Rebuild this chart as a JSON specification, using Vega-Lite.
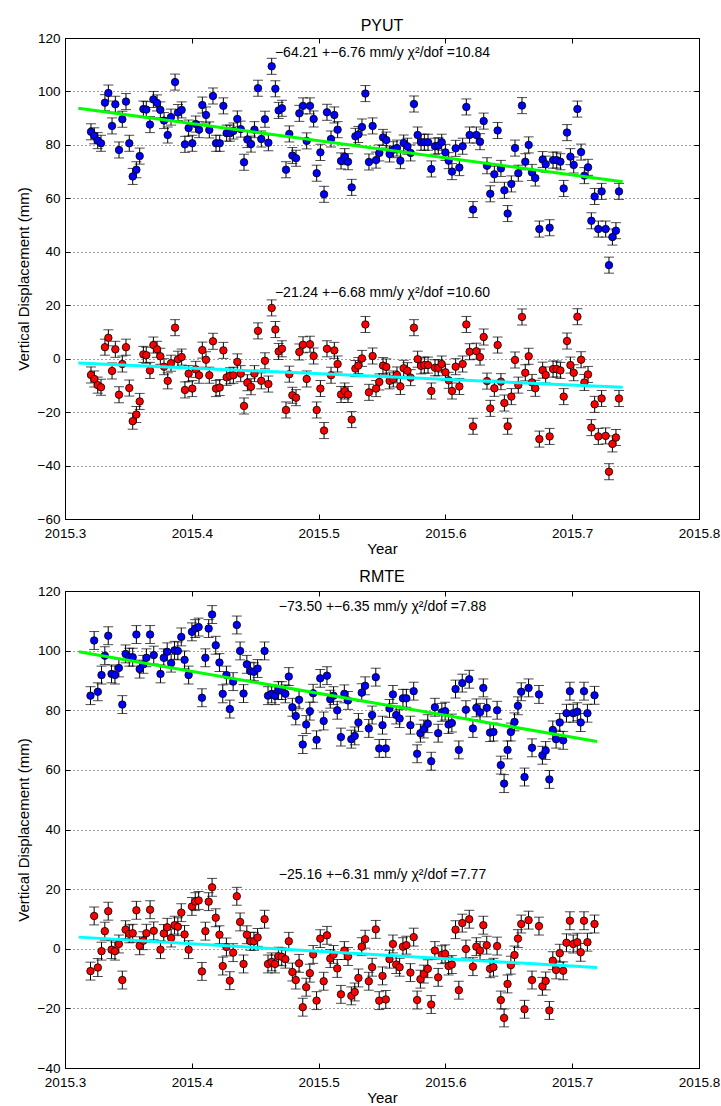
{
"$schema": "https://vega.github.io/schema/vega-lite/v6.json",
"background": "white",
"padding": {"left": 15, "top": 17, "right": 5, "bottom": 0},
"spacing": 11,
"config": {
  "font": "Liberation Sans",
  "view": {"stroke": "black", "strokeWidth": 1},
  "title": {"font": "Liberation Sans", "fontSize": 16, "fontWeight": "normal", "color": "black", "offset": -3},
  "axis": {"labelFont": "Liberation Sans", "labelFontSize": 13.5, "labelColor": "black", "titleFont": "Liberation Sans", "titleFontSize": 15, "titleFontWeight": "normal", "titleColor": "black", "domainColor": "black", "tickColor": "black", "gridColor": "#000000", "gridOpacity": 0.75, "gridDash": [1, 3], "labelOverlap": false, "labelFlush": false}
},
"datasets": {
  "pyut_up": [
{"t":2015.3205,"v":84.9,"e":3},{"t":2015.3231,"v":83.4,"e":3},{"t":2015.3258,"v":81.6,"e":3},{"t":2015.3284,"v":80.6,"e":3},{"t":2015.3315,"v":95.8,"e":3},{"t":2015.3342,"v":99.4,"e":3},{"t":2015.3371,"v":87.1,"e":3},{"t":2015.3397,"v":95.2,"e":3},{"t":2015.3426,"v":78.1,"e":3},{"t":2015.3452,"v":89.6,"e":3},{"t":2015.3481,"v":96.2,"e":3},{"t":2015.3507,"v":80.6,"e":3},{"t":2015.3534,"v":68.2,"e":3},{"t":2015.3563,"v":70.7,"e":3},{"t":2015.3589,"v":75.8,"e":3},{"t":2015.3618,"v":93.4,"e":3},{"t":2015.3641,"v":93.2,"e":3},{"t":2015.3670,"v":87.6,"e":3},{"t":2015.3697,"v":97.0,"e":3},{"t":2015.3726,"v":95.7,"e":3},{"t":2015.3752,"v":93.1,"e":3},{"t":2015.3781,"v":89.1,"e":3},{"t":2015.3810,"v":83.7,"e":3},{"t":2015.3836,"v":90.4,"e":3},{"t":2015.3868,"v":103.5,"e":3},{"t":2015.3891,"v":92.1,"e":3},{"t":2015.3920,"v":93.1,"e":3},{"t":2015.3946,"v":80.2,"e":3},{"t":2015.3975,"v":86.3,"e":3},{"t":2015.4004,"v":80.6,"e":3},{"t":2015.4031,"v":87.8,"e":3},{"t":2015.4057,"v":85.7,"e":3},{"t":2015.4083,"v":94.9,"e":3},{"t":2015.4112,"v":91.2,"e":3},{"t":2015.4138,"v":85.6,"e":3},{"t":2015.4167,"v":98.3,"e":3},{"t":2015.4191,"v":80.6,"e":3},{"t":2015.4220,"v":80.6,"e":3},{"t":2015.4249,"v":94.6,"e":3},{"t":2015.4275,"v":84.4,"e":3},{"t":2015.4301,"v":84.4,"e":3},{"t":2015.4328,"v":85.2,"e":3},{"t":2015.4359,"v":89.7,"e":3},{"t":2015.4386,"v":85.9,"e":3},{"t":2015.4412,"v":73.5,"e":3},{"t":2015.4438,"v":82.0,"e":3},{"t":2015.4467,"v":80.3,"e":3},{"t":2015.4494,"v":85.7,"e":3},{"t":2015.4522,"v":101.2,"e":3},{"t":2015.4548,"v":82.2,"e":3},{"t":2015.4577,"v":89.6,"e":3},{"t":2015.4604,"v":80.8,"e":3},{"t":2015.4630,"v":109.4,"e":3},{"t":2015.4659,"v":101.0,"e":3},{"t":2015.4685,"v":92.9,"e":3},{"t":2015.4711,"v":93.7,"e":3},{"t":2015.4743,"v":70.7,"e":3},{"t":2015.4769,"v":84.1,"e":3},{"t":2015.4793,"v":76.0,"e":3},{"t":2015.4822,"v":75.0,"e":3},{"t":2015.4848,"v":91.8,"e":3},{"t":2015.4877,"v":94.6,"e":3},{"t":2015.4906,"v":81.5,"e":3},{"t":2015.4932,"v":94.6,"e":3},{"t":2015.4961,"v":89.7,"e":3},{"t":2015.4985,"v":69.4,"e":3},{"t":2015.5014,"v":77.2,"e":3},{"t":2015.5043,"v":61.5,"e":3},{"t":2015.5066,"v":92.2,"e":3},{"t":2015.5098,"v":82.2,"e":3},{"t":2015.5124,"v":91.2,"e":3},{"t":2015.5150,"v":85.7,"e":3},{"t":2015.5177,"v":74.0,"e":3},{"t":2015.5206,"v":75.6,"e":3},{"t":2015.5232,"v":73.7,"e":3},{"t":2015.5261,"v":64.1,"e":3},{"t":2015.5290,"v":83.2,"e":3},{"t":2015.5313,"v":83.9,"e":3},{"t":2015.5342,"v":86.7,"e":3},{"t":2015.5369,"v":99.2,"e":3},{"t":2015.5397,"v":73.6,"e":3},{"t":2015.5426,"v":87.1,"e":3},{"t":2015.5453,"v":74.3,"e":3},{"t":2015.5479,"v":77.0,"e":3},{"t":2015.5508,"v":82.8,"e":3},{"t":2015.5534,"v":81.8,"e":3},{"t":2015.5560,"v":76.6,"e":3},
{"t":2015.5589,"v":78.2,"e":3},{"t":2015.5618,"v":78.8,"e":3},{"t":2015.5645,"v":74.1,"e":3},{"t":2015.5671,"v":80.7,"e":3},{"t":2015.5700,"v":79.5,"e":3},{"t":2015.5726,"v":77.0,"e":3},{"t":2015.5752,"v":95.3,"e":3},{"t":2015.5781,"v":83.7,"e":3},{"t":2015.5808,"v":81.0,"e":3},{"t":2015.5834,"v":81.0,"e":3},{"t":2015.5863,"v":81.0,"e":3},{"t":2015.5889,"v":71.0,"e":3},{"t":2015.5918,"v":79.5,"e":3},{"t":2015.5944,"v":79.7,"e":3},{"t":2015.5971,"v":81.0,"e":3},{"t":2015.6000,"v":77.2,"e":3},{"t":2015.6026,"v":74.1,"e":3},{"t":2015.6052,"v":70.0,"e":3},{"t":2015.6081,"v":78.7,"e":3},{"t":2015.6110,"v":71.5,"e":3},{"t":2015.6136,"v":79.5,"e":3},{"t":2015.6165,"v":94.2,"e":3},{"t":2015.6191,"v":83.7,"e":3},{"t":2015.6218,"v":55.8,"e":3},{"t":2015.6244,"v":83.7,"e":3},{"t":2015.6273,"v":81.2,"e":3},{"t":2015.6302,"v":88.9,"e":3},{"t":2015.6328,"v":72.2,"e":3},{"t":2015.6354,"v":61.7,"e":3},{"t":2015.6386,"v":69.0,"e":3},{"t":2015.6412,"v":85.4,"e":3},{"t":2015.6438,"v":71.2,"e":3},{"t":2015.6465,"v":63.0,"e":3},{"t":2015.6491,"v":54.3,"e":3},{"t":2015.6520,"v":65.4,"e":3},{"t":2015.6549,"v":78.8,"e":3},{"t":2015.6575,"v":69.4,"e":3},{"t":2015.6604,"v":94.7,"e":3},{"t":2015.6630,"v":73.7,"e":3},{"t":2015.6657,"v":80.0,"e":3},{"t":2015.6683,"v":69.7,"e":3},{"t":2015.6709,"v":67.6,"e":3},{"t":2015.6741,"v":48.5,"e":3},{"t":2015.6767,"v":74.5,"e":3},{"t":2015.6791,"v":72.8,"e":3},{"t":2015.6822,"v":49.0,"e":3},{"t":2015.6849,"v":74.3,"e":3},{"t":2015.6878,"v":74.3,"e":3},{"t":2015.6907,"v":73.7,"e":3},{"t":2015.6933,"v":63.7,"e":3},{"t":2015.6959,"v":84.6,"e":3},{"t":2015.6986,"v":75.6,"e":3},{"t":2015.7012,"v":72.5,"e":3},{"t":2015.7041,"v":93.4,"e":3},{"t":2015.7070,"v":77.3,"e":3},{"t":2015.7096,"v":68.5,"e":3},{"t":2015.7125,"v":71.6,"e":3},{"t":2015.7151,"v":51.6,"e":3},{"t":2015.7177,"v":60.7,"e":3},{"t":2015.7206,"v":48.5,"e":3},{"t":2015.7232,"v":62.6,"e":3},{"t":2015.7264,"v":48.5,"e":3},{"t":2015.7290,"v":35.0,"e":3},{"t":2015.7317,"v":45.5,"e":3},{"t":2015.7345,"v":47.9,"e":3},{"t":2015.7369,"v":62.6,"e":3}
  ],
  "pyut_low": [
{"t":2015.3205,"v":-6.1,"e":3},{"t":2015.3231,"v":-7.6,"e":3},{"t":2015.3258,"v":-9.9,"e":3},{"t":2015.3284,"v":-10.7,"e":3},{"t":2015.3315,"v":4.3,"e":3},{"t":2015.3342,"v":7.8,"e":3},{"t":2015.3371,"v":-4.6,"e":3},{"t":2015.3397,"v":3.5,"e":3},{"t":2015.3426,"v":-13.5,"e":3},{"t":2015.3452,"v":-2.0,"e":3},{"t":2015.3481,"v":4.3,"e":3},{"t":2015.3507,"v":-11.0,"e":3},{"t":2015.3534,"v":-23.4,"e":3},{"t":2015.3563,"v":-20.9,"e":3},{"t":2015.3589,"v":-16.0,"e":3},{"t":2015.3618,"v":1.6,"e":3},{"t":2015.3641,"v":1.3,"e":3},{"t":2015.3670,"v":-4.4,"e":3},{"t":2015.3697,"v":5.1,"e":3},{"t":2015.3726,"v":3.5,"e":3},{"t":2015.3752,"v":0.9,"e":3},{"t":2015.3781,"v":-3.0,"e":3},{"t":2015.3810,"v":-8.3,"e":3},{"t":2015.3836,"v":-1.7,"e":3},{"t":2015.3868,"v":11.6,"e":3},{"t":2015.3891,"v":-0.2,"e":3},{"t":2015.3920,"v":0.6,"e":3},{"t":2015.3946,"v":-11.7,"e":3},{"t":2015.3975,"v":-5.6,"e":3},{"t":2015.4004,"v":-11.2,"e":3},{"t":2015.4031,"v":-4.0,"e":3},{"t":2015.4057,"v":-6.2,"e":3},{"t":2015.4083,"v":3.2,"e":3},{"t":2015.4112,"v":-0.4,"e":3},{"t":2015.4138,"v":-6.2,"e":3},{"t":2015.4167,"v":6.5,"e":3},{"t":2015.4191,"v":-11.2,"e":3},{"t":2015.4220,"v":-10.8,"e":3},{"t":2015.4249,"v":3.1,"e":3},{"t":2015.4275,"v":-7.0,"e":3},{"t":2015.4301,"v":-6.4,"e":3},{"t":2015.4328,"v":-6.2,"e":3},{"t":2015.4359,"v":-1.2,"e":3},{"t":2015.4386,"v":-5.6,"e":3},{"t":2015.4412,"v":-17.7,"e":3},{"t":2015.4438,"v":-9.0,"e":3},{"t":2015.4467,"v":-10.5,"e":3},{"t":2015.4494,"v":-5.6,"e":3},{"t":2015.4522,"v":10.4,"e":3},{"t":2015.4548,"v":-8.3,"e":3},{"t":2015.4577,"v":-0.8,"e":3},{"t":2015.4604,"v":-9.5,"e":3},{"t":2015.4630,"v":19.0,"e":3},{"t":2015.4659,"v":10.9,"e":3},{"t":2015.4685,"v":2.7,"e":3},{"t":2015.4711,"v":3.7,"e":3},{"t":2015.4743,"v":-19.2,"e":3},{"t":2015.4769,"v":-5.8,"e":3},{"t":2015.4793,"v":-13.7,"e":3},{"t":2015.4822,"v":-14.6,"e":3},{"t":2015.4848,"v":2.5,"e":3},{"t":2015.4877,"v":5.2,"e":3},{"t":2015.4906,"v":-7.6,"e":3},{"t":2015.4932,"v":5.4,"e":3},{"t":2015.4961,"v":1.0,"e":3},{"t":2015.4985,"v":-19.2,"e":3},{"t":2015.5014,"v":-11.2,"e":3},{"t":2015.5043,"v":-26.9,"e":3},{"t":2015.5066,"v":3.7,"e":3},{"t":2015.5098,"v":-6.2,"e":3},{"t":2015.5124,"v":3.1,"e":3},{"t":2015.5150,"v":-2.0,"e":3},{"t":2015.5177,"v":-13.4,"e":3},{"t":2015.5206,"v":-12.1,"e":3},{"t":2015.5232,"v":-13.4,"e":3},{"t":2015.5261,"v":-22.8,"e":3},{"t":2015.5290,"v":-3.7,"e":3},{"t":2015.5313,"v":-2.6,"e":3},{"t":2015.5342,"v":0.1,"e":3},{"t":2015.5369,"v":12.8,"e":3},{"t":2015.5397,"v":-12.6,"e":3},{"t":2015.5426,"v":1.0,"e":3},{"t":2015.5453,"v":-11.2,"e":3},{"t":2015.5479,"v":-8.7,"e":3},{"t":2015.5508,"v":-2.6,"e":3},{"t":2015.5534,"v":-3.1,"e":3},{"t":2015.5560,"v":-8.3,"e":3},
{"t":2015.5589,"v":-7.6,"e":3},{"t":2015.5618,"v":-6.1,"e":3},{"t":2015.5645,"v":-10.4,"e":3},{"t":2015.5671,"v":-3.6,"e":3},{"t":2015.5700,"v":-4.5,"e":3},{"t":2015.5726,"v":-7.1,"e":3},{"t":2015.5752,"v":11.6,"e":3},{"t":2015.5781,"v":-0.2,"e":3},{"t":2015.5808,"v":-2.7,"e":3},{"t":2015.5834,"v":-2.4,"e":3},{"t":2015.5863,"v":-2.4,"e":3},{"t":2015.5889,"v":-12.1,"e":3},{"t":2015.5918,"v":-3.4,"e":3},{"t":2015.5944,"v":-3.4,"e":3},{"t":2015.5971,"v":-2.0,"e":3},{"t":2015.6000,"v":-5.1,"e":3},{"t":2015.6026,"v":-8.1,"e":3},{"t":2015.6052,"v":-12.1,"e":3},{"t":2015.6081,"v":-3.0,"e":3},{"t":2015.6110,"v":-10.4,"e":3},{"t":2015.6136,"v":-2.0,"e":3},{"t":2015.6165,"v":12.8,"e":3},{"t":2015.6191,"v":2.6,"e":3},{"t":2015.6218,"v":-25.3,"e":3},{"t":2015.6244,"v":2.8,"e":3},{"t":2015.6273,"v":0.6,"e":3},{"t":2015.6302,"v":8.1,"e":3},{"t":2015.6328,"v":-8.4,"e":3},{"t":2015.6354,"v":-18.6,"e":3},{"t":2015.6386,"v":-11.1,"e":3},{"t":2015.6412,"v":5.1,"e":3},{"t":2015.6438,"v":-8.6,"e":3},{"t":2015.6465,"v":-16.6,"e":3},{"t":2015.6491,"v":-25.3,"e":3},{"t":2015.6520,"v":-14.2,"e":3},{"t":2015.6549,"v":-0.5,"e":3},{"t":2015.6575,"v":-9.9,"e":3},{"t":2015.6604,"v":15.6,"e":3},{"t":2015.6630,"v":-5.3,"e":3},{"t":2015.6657,"v":0.9,"e":3},{"t":2015.6683,"v":-8.9,"e":3},{"t":2015.6709,"v":-11.1,"e":3},{"t":2015.6741,"v":-30.1,"e":3},{"t":2015.6767,"v":-4.3,"e":3},{"t":2015.6791,"v":-6.1,"e":3},{"t":2015.6822,"v":-29.1,"e":3},{"t":2015.6849,"v":-3.9,"e":3},{"t":2015.6878,"v":-3.9,"e":3},{"t":2015.6907,"v":-4.4,"e":3},{"t":2015.6933,"v":-14.2,"e":3},{"t":2015.6959,"v":6.6,"e":3},{"t":2015.6986,"v":-2.4,"e":3},{"t":2015.7012,"v":-5.3,"e":3},{"t":2015.7041,"v":15.7,"e":3},{"t":2015.7070,"v":-0.4,"e":3},{"t":2015.7096,"v":-8.9,"e":3},{"t":2015.7125,"v":-5.9,"e":3},{"t":2015.7151,"v":-25.8,"e":3},{"t":2015.7177,"v":-17.1,"e":3},{"t":2015.7206,"v":-29.1,"e":3},{"t":2015.7232,"v":-14.9,"e":3},{"t":2015.7264,"v":-28.9,"e":3},{"t":2015.7290,"v":-42.3,"e":3},{"t":2015.7317,"v":-31.9,"e":3},{"t":2015.7345,"v":-29.5,"e":3},{"t":2015.7369,"v":-14.9,"e":3}
  ],
  "rmte_up": [
{"t":2015.3201,"v":84.9,"e":3},{"t":2015.3230,"v":103.4,"e":3},{"t":2015.3259,"v":86.2,"e":3},{"t":2015.3288,"v":91.8,"e":3},{"t":2015.3314,"v":98.3,"e":3},{"t":2015.3341,"v":105.0,"e":3},{"t":2015.3367,"v":92.2,"e":3},{"t":2015.3394,"v":91.8,"e":3},{"t":2015.3425,"v":94.2,"e":3},{"t":2015.3452,"v":81.9,"e":3},{"t":2015.3478,"v":98.9,"e":3},{"t":2015.3507,"v":97.8,"e":3},{"t":2015.3534,"v":97.8,"e":3},{"t":2015.3563,"v":105.4,"e":3},{"t":2015.3589,"v":93.8,"e":3},{"t":2015.3618,"v":95.4,"e":3},{"t":2015.3642,"v":97.6,"e":3},{"t":2015.3671,"v":105.4,"e":3},{"t":2015.3700,"v":98.5,"e":3},{"t":2015.3753,"v":92.2,"e":3},{"t":2015.3779,"v":97.6,"e":3},{"t":2015.3806,"v":99.6,"e":3},{"t":2015.3837,"v":95.8,"e":3},{"t":2015.3864,"v":100.1,"e":3},{"t":2015.3890,"v":99.9,"e":3},{"t":2015.3917,"v":104.6,"e":3},{"t":2015.3943,"v":96.9,"e":3},{"t":2015.3975,"v":91.8,"e":3},{"t":2015.4001,"v":106.3,"e":3},{"t":2015.4027,"v":107.4,"e":3},{"t":2015.4054,"v":107.9,"e":3},{"t":2015.4080,"v":84.2,"e":3},{"t":2015.4107,"v":97.6,"e":3},{"t":2015.4133,"v":107.4,"e":3},{"t":2015.4160,"v":112.1,"e":3},{"t":2015.4189,"v":101.8,"e":3},{"t":2015.4218,"v":96.0,"e":3},{"t":2015.4244,"v":85.5,"e":3},{"t":2015.4273,"v":91.8,"e":3},{"t":2015.4300,"v":80.4,"e":3},{"t":2015.4326,"v":89.6,"e":3},{"t":2015.4355,"v":108.6,"e":3},{"t":2015.4381,"v":99.9,"e":3},{"t":2015.4408,"v":85.6,"e":3},{"t":2015.4434,"v":95.4,"e":3},{"t":2015.4463,"v":93.1,"e":3},{"t":2015.4490,"v":92.9,"e":3},{"t":2015.4519,"v":94.0,"e":3},{"t":2015.4574,"v":99.9,"e":3},{"t":2015.4601,"v":84.9,"e":3},{"t":2015.4630,"v":85.5,"e":3},{"t":2015.4656,"v":84.9,"e":3},{"t":2015.4683,"v":86.6,"e":3},{"t":2015.4709,"v":86.6,"e":3},{"t":2015.4738,"v":85.5,"e":3},{"t":2015.4765,"v":91.3,"e":3},{"t":2015.4793,"v":81.0,"e":3},{"t":2015.4820,"v":78.1,"e":3},{"t":2015.4846,"v":83.5,"e":3},{"t":2015.4875,"v":68.5,"e":3},{"t":2015.4902,"v":75.2,"e":3},{"t":2015.4931,"v":79.7,"e":3},{"t":2015.4957,"v":85.7,"e":3},{"t":2015.4984,"v":70.1,"e":3},{"t":2015.5013,"v":90.7,"e":3},{"t":2015.5040,"v":76.4,"e":3},{"t":2015.5066,"v":91.6,"e":3},{"t":2015.5092,"v":83.7,"e":3},{"t":2015.5118,"v":84.9,"e":3},{"t":2015.5147,"v":80.0,"e":3},{"t":2015.5176,"v":71.0,"e":3},{"t":2015.5203,"v":85.5,"e":3},{"t":2015.5232,"v":83.3,"e":3},{"t":2015.5258,"v":70.3,"e":3},{"t":2015.5285,"v":71.4,"e":3},{"t":2015.5314,"v":75.9,"e":3},{"t":2015.5340,"v":85.9,"e":3},{"t":2015.5367,"v":88.2,"e":3},{"t":2015.5396,"v":73.9,"e":3},{"t":2015.5422,"v":78.4,"e":3},{"t":2015.5451,"v":91.1,"e":3},{"t":2015.5478,"v":67.2,"e":3},{"t":2015.5504,"v":75.0,"e":3},{"t":2015.5530,"v":67.2,"e":3},
{"t":2015.5559,"v":80.6,"e":3},{"t":2015.5586,"v":85.3,"e":3},{"t":2015.5612,"v":78.4,"e":3},{"t":2015.5639,"v":77.2,"e":3},{"t":2015.5665,"v":84.0,"e":3},{"t":2015.5692,"v":84.0,"e":3},{"t":2015.5724,"v":75.0,"e":3},{"t":2015.5750,"v":86.4,"e":3},{"t":2015.5777,"v":65.4,"e":3},{"t":2015.5803,"v":72.3,"e":3},{"t":2015.5830,"v":73.7,"e":3},{"t":2015.5861,"v":75.5,"e":3},{"t":2015.5888,"v":62.9,"e":3},{"t":2015.5917,"v":81.0,"e":3},{"t":2015.5943,"v":72.3,"e":3},{"t":2015.5972,"v":79.3,"e":3},{"t":2015.5998,"v":79.7,"e":3},{"t":2015.6025,"v":75.2,"e":3},{"t":2015.6051,"v":75.7,"e":3},{"t":2015.6080,"v":87.1,"e":3},{"t":2015.6106,"v":66.7,"e":3},{"t":2015.6133,"v":89.1,"e":3},{"t":2015.6162,"v":80.2,"e":3},{"t":2015.6188,"v":90.4,"e":3},{"t":2015.6217,"v":73.9,"e":3},{"t":2015.6244,"v":80.8,"e":3},{"t":2015.6273,"v":79.3,"e":3},{"t":2015.6299,"v":87.5,"e":3},{"t":2015.6326,"v":80.8,"e":3},{"t":2015.6352,"v":72.5,"e":3},{"t":2015.6379,"v":72.7,"e":3},{"t":2015.6408,"v":80.0,"e":3},{"t":2015.6437,"v":61.6,"e":3},{"t":2015.6463,"v":55.4,"e":3},{"t":2015.6490,"v":66.7,"e":3},{"t":2015.6516,"v":72.7,"e":3},{"t":2015.6545,"v":76.1,"e":3},{"t":2015.6572,"v":81.5,"e":3},{"t":2015.6598,"v":86.2,"e":3},{"t":2015.6624,"v":57.6,"e":3},{"t":2015.6656,"v":87.5,"e":3},{"t":2015.6683,"v":67.4,"e":3},{"t":2015.6738,"v":85.3,"e":3},{"t":2015.6765,"v":64.9,"e":3},{"t":2015.6791,"v":66.5,"e":3},{"t":2015.6820,"v":56.8,"e":3},{"t":2015.6847,"v":73.4,"e":3},{"t":2015.6873,"v":70.3,"e":3},{"t":2015.6902,"v":75.9,"e":3},{"t":2015.6929,"v":69.9,"e":3},{"t":2015.6955,"v":79.0,"e":3},{"t":2015.6982,"v":86.4,"e":3},{"t":2015.7008,"v":79.0,"e":3},{"t":2015.7040,"v":79.5,"e":3},{"t":2015.7067,"v":75.9,"e":3},{"t":2015.7093,"v":86.4,"e":3},{"t":2015.7120,"v":79.0,"e":3},{"t":2015.7176,"v":85.0,"e":3}
  ],
  "rmte_low": [
{"t":2015.3201,"v":-7.5,"e":3},{"t":2015.3230,"v":11.0,"e":3},{"t":2015.3259,"v":-6.3,"e":3},{"t":2015.3288,"v":-0.8,"e":3},{"t":2015.3314,"v":5.9,"e":3},{"t":2015.3341,"v":12.6,"e":3},{"t":2015.3367,"v":-0.3,"e":3},{"t":2015.3394,"v":-0.8,"e":3},{"t":2015.3425,"v":1.6,"e":3},{"t":2015.3452,"v":-10.5,"e":3},{"t":2015.3478,"v":6.4,"e":3},{"t":2015.3507,"v":5.0,"e":3},{"t":2015.3534,"v":5.2,"e":3},{"t":2015.3563,"v":12.9,"e":3},{"t":2015.3589,"v":1.0,"e":3},{"t":2015.3618,"v":2.7,"e":3},{"t":2015.3642,"v":5.2,"e":3},{"t":2015.3671,"v":13.1,"e":3},{"t":2015.3700,"v":6.0,"e":3},{"t":2015.3753,"v":-0.3,"e":3},{"t":2015.3779,"v":5.1,"e":3},{"t":2015.3806,"v":7.2,"e":3},{"t":2015.3837,"v":3.6,"e":3},{"t":2015.3864,"v":7.9,"e":3},{"t":2015.3890,"v":7.4,"e":3},{"t":2015.3917,"v":12.1,"e":3},{"t":2015.3943,"v":4.8,"e":3},{"t":2015.3975,"v":-0.3,"e":3},{"t":2015.4001,"v":14.2,"e":3},{"t":2015.4027,"v":15.8,"e":3},{"t":2015.4054,"v":16.2,"e":3},{"t":2015.4080,"v":-7.6,"e":3},{"t":2015.4107,"v":5.9,"e":3},{"t":2015.4133,"v":15.8,"e":3},{"t":2015.4160,"v":20.6,"e":3},{"t":2015.4189,"v":10.4,"e":3},{"t":2015.4218,"v":4.7,"e":3},{"t":2015.4244,"v":-5.8,"e":3},{"t":2015.4273,"v":0.6,"e":3},{"t":2015.4300,"v":-10.7,"e":3},{"t":2015.4326,"v":-1.3,"e":3},{"t":2015.4355,"v":17.6,"e":3},{"t":2015.4381,"v":9.0,"e":3},{"t":2015.4408,"v":-5.1,"e":3},{"t":2015.4434,"v":4.7,"e":3},{"t":2015.4463,"v":2.5,"e":3},{"t":2015.4490,"v":2.5,"e":3},{"t":2015.4519,"v":3.8,"e":3},{"t":2015.4574,"v":9.9,"e":3},{"t":2015.4601,"v":-5.1,"e":3},{"t":2015.4630,"v":-4.4,"e":3},{"t":2015.4656,"v":-5.1,"e":3},{"t":2015.4683,"v":-2.5,"e":3},{"t":2015.4709,"v":-2.7,"e":3},{"t":2015.4738,"v":-3.5,"e":3},{"t":2015.4765,"v":2.5,"e":3},{"t":2015.4793,"v":-7.8,"e":3},{"t":2015.4820,"v":-10.5,"e":3},{"t":2015.4846,"v":-4.9,"e":3},{"t":2015.4875,"v":-19.6,"e":3},{"t":2015.4902,"v":-12.9,"e":3},{"t":2015.4931,"v":-8.2,"e":3},{"t":2015.4957,"v":-1.9,"e":3},{"t":2015.4984,"v":-17.4,"e":3},{"t":2015.5013,"v":3.4,"e":3},{"t":2015.5040,"v":-10.9,"e":3},{"t":2015.5066,"v":4.5,"e":3},{"t":2015.5092,"v":-3.3,"e":3},{"t":2015.5118,"v":-1.9,"e":3},{"t":2015.5147,"v":-6.6,"e":3},{"t":2015.5176,"v":-15.3,"e":3},{"t":2015.5203,"v":-0.6,"e":3},{"t":2015.5232,"v":-2.6,"e":3},{"t":2015.5258,"v":-15.8,"e":3},{"t":2015.5285,"v":-14.5,"e":3},{"t":2015.5314,"v":-9.8,"e":3},{"t":2015.5340,"v":0.7,"e":3},{"t":2015.5367,"v":3.2,"e":3},{"t":2015.5396,"v":-10.9,"e":3},{"t":2015.5422,"v":-6.2,"e":3},{"t":2015.5451,"v":6.5,"e":3},{"t":2015.5478,"v":-17.4,"e":3},{"t":2015.5504,"v":-9.1,"e":3},{"t":2015.5530,"v":-17.0,"e":3},
{"t":2015.5559,"v":-3.5,"e":3},{"t":2015.5586,"v":1.6,"e":3},{"t":2015.5612,"v":-5.3,"e":3},{"t":2015.5639,"v":-6.2,"e":3},{"t":2015.5665,"v":0.7,"e":3},{"t":2015.5692,"v":1.2,"e":3},{"t":2015.5724,"v":-8.0,"e":3},{"t":2015.5750,"v":3.9,"e":3},{"t":2015.5777,"v":-17.2,"e":3},{"t":2015.5803,"v":-10.2,"e":3},{"t":2015.5830,"v":-8.5,"e":3},{"t":2015.5861,"v":-6.7,"e":3},{"t":2015.5888,"v":-18.7,"e":3},{"t":2015.5917,"v":-0.6,"e":3},{"t":2015.5943,"v":-9.6,"e":3},{"t":2015.5972,"v":-2.0,"e":3},{"t":2015.5998,"v":-1.7,"e":3},{"t":2015.6025,"v":-5.8,"e":3},{"t":2015.6051,"v":-5.3,"e":3},{"t":2015.6080,"v":6.4,"e":3},{"t":2015.6106,"v":-13.9,"e":3},{"t":2015.6133,"v":8.6,"e":3},{"t":2015.6162,"v":-0.1,"e":3},{"t":2015.6188,"v":9.9,"e":3},{"t":2015.6217,"v":-6.0,"e":3},{"t":2015.6244,"v":0.7,"e":3},{"t":2015.6273,"v":-0.6,"e":3},{"t":2015.6299,"v":7.9,"e":3},{"t":2015.6326,"v":1.2,"e":3},{"t":2015.6352,"v":-6.7,"e":3},{"t":2015.6379,"v":-6.2,"e":3},{"t":2015.6408,"v":0.9,"e":3},{"t":2015.6437,"v":-17.2,"e":3},{"t":2015.6463,"v":-23.2,"e":3},{"t":2015.6490,"v":-11.8,"e":3},{"t":2015.6516,"v":-5.5,"e":3},{"t":2015.6545,"v":-2.1,"e":3},{"t":2015.6572,"v":3.4,"e":3},{"t":2015.6598,"v":8.3,"e":3},{"t":2015.6624,"v":-20.3,"e":3},{"t":2015.6656,"v":9.6,"e":3},{"t":2015.6683,"v":-10.5,"e":3},{"t":2015.6738,"v":7.6,"e":3},{"t":2015.6765,"v":-12.6,"e":3},{"t":2015.6791,"v":-10.8,"e":3},{"t":2015.6820,"v":-20.7,"e":3},{"t":2015.6847,"v":-4.0,"e":3},{"t":2015.6873,"v":-7.1,"e":3},{"t":2015.6902,"v":-1.5,"e":3},{"t":2015.6929,"v":-7.4,"e":3},{"t":2015.6955,"v":2.0,"e":3},{"t":2015.6982,"v":9.4,"e":3},{"t":2015.7008,"v":1.6,"e":3},{"t":2015.7040,"v":2.2,"e":3},{"t":2015.7067,"v":-1.2,"e":3},{"t":2015.7093,"v":9.4,"e":3},{"t":2015.7120,"v":2.2,"e":3},{"t":2015.7176,"v":8.3,"e":3}
  ],
  "pyut_fit_up": [{"t":2015.3105,"v":93.7},{"t":2015.7398,"v":66.2}],
  "pyut_fit_low": [{"t":2015.3105,"v":-1.6},{"t":2015.7398,"v":-10.7}],
  "rmte_fit_up": [{"t":2015.3109,"v":99.6},{"t":2015.7197,"v":69.5}],
  "rmte_fit_low": [{"t":2015.3109,"v":3.9},{"t":2015.7197,"v":-6.3}],
  "pyut_labels": [{"t":2015.5504,"v":114.4,"label":"−64.21 +−6.76 mm/y  χ²/dof =10.84"},{"t":2015.5504,"v":24.5,"label":"−21.24 +−6.68 mm/y  χ²/dof =10.60"}],
  "rmte_labels": [{"t":2015.5504,"v":114.6,"label":"−73.50 +−6.35 mm/y  χ²/dof =7.88"},{"t":2015.5504,"v":24.7,"label":"−25.16 +−6.31 mm/y  χ²/dof =7.77"}]
},
"vconcat": [
{
  "title": "PYUT",
  "width": 634, "height": 481,
  "resolve": {"axis": {"x": "independent", "y": "independent"}},
  "layer": [
    {"data": {"name": "pyut_up"}, "mark": {"type": "errorbar", "ticks": {"size": 10}, "color": "black"},
     "encoding": {"x": {"field": "t", "type": "quantitative", "scale": {"domain": [2015.3, 2015.8], "nice": false, "zero": false}, "axis": null},
       "y": {"field": "v", "type": "quantitative", "scale": {"domain": [-60, 120], "nice": false, "zero": false}, "axis": null}, "yError": {"field": "e"}}},
    {"data": {"name": "pyut_up"}, "mark": {"type": "point", "shape": "circle", "filled": true, "fill": "#0000FF", "stroke": "black", "strokeWidth": 0.8, "size": 56, "opacity": 1},
     "encoding": {"x": {"field": "t", "type": "quantitative", "axis": null}, "y": {"field": "v", "type": "quantitative", "axis": null}}},
    {"data": {"name": "pyut_low"}, "mark": {"type": "errorbar", "ticks": {"size": 10}, "color": "black"},
     "encoding": {"x": {"field": "t", "type": "quantitative", "axis": null}, "y": {"field": "v", "type": "quantitative", "axis": null}, "yError": {"field": "e"}}},
    {"data": {"name": "pyut_low"}, "mark": {"type": "point", "shape": "circle", "filled": true, "fill": "#FF0000", "stroke": "black", "strokeWidth": 0.8, "size": 56, "opacity": 1},
     "encoding": {"x": {"field": "t", "type": "quantitative", "axis": null}, "y": {"field": "v", "type": "quantitative", "axis": null}}},
    {"data": {"name": "pyut_fit_up"}, "mark": {"type": "line", "color": "#00FF00", "strokeWidth": 3},
     "encoding": {"x": {"field": "t", "type": "quantitative", "axis": {"values": [2015.3, 2015.4, 2015.5, 2015.6, 2015.7, 2015.8], "format": ".1f", "title": "Year", "tickSize": -5, "labelPadding": 12, "titlePadding": 2, "grid": false}},
       "y": {"field": "v", "type": "quantitative", "axis": {"values": [-60, -40, -20, 0, 20, 40, 60, 80, 100, 120], "title": "Vertical Displacement (mm)", "tickSize": -5, "labelPadding": 10, "titlePadding": 6, "grid": true}}}},
    {"data": {"name": "pyut_fit_low"}, "mark": {"type": "line", "color": "#00FFFF", "strokeWidth": 3},
     "encoding": {"x": {"field": "t", "type": "quantitative", "axis": {"orient": "top", "values": [2015.3, 2015.4, 2015.5, 2015.6, 2015.7, 2015.8], "labels": false, "title": null, "domain": false, "grid": false, "tickSize": -5}},
       "y": {"field": "v", "type": "quantitative", "axis": {"orient": "right", "values": [-60, -40, -20, 0, 20, 40, 60, 80, 100, 120], "labels": false, "title": null, "domain": false, "grid": false, "tickSize": -5}}}},
    {"data": {"name": "pyut_labels"}, "mark": {"type": "text", "fontSize": 14, "color": "black", "align": "center", "baseline": "middle"},
     "encoding": {"x": {"field": "t", "type": "quantitative", "axis": null}, "y": {"field": "v", "type": "quantitative", "axis": null}, "text": {"field": "label"}}}
  ]
},
{
  "title": {"text": "RMTE", "offset": -1},
  "width": 634, "height": 477,
  "resolve": {"axis": {"x": "independent", "y": "independent"}},
  "layer": [
    {"data": {"name": "rmte_up"}, "mark": {"type": "errorbar", "ticks": {"size": 10}, "color": "black"},
     "encoding": {"x": {"field": "t", "type": "quantitative", "scale": {"domain": [2015.3, 2015.8], "nice": false, "zero": false}, "axis": null},
       "y": {"field": "v", "type": "quantitative", "scale": {"domain": [-40, 120], "nice": false, "zero": false}, "axis": null}, "yError": {"field": "e"}}},
    {"data": {"name": "rmte_up"}, "mark": {"type": "point", "shape": "circle", "filled": true, "fill": "#0000FF", "stroke": "black", "strokeWidth": 0.8, "size": 56, "opacity": 1},
     "encoding": {"x": {"field": "t", "type": "quantitative", "axis": null}, "y": {"field": "v", "type": "quantitative", "axis": null}}},
    {"data": {"name": "rmte_low"}, "mark": {"type": "errorbar", "ticks": {"size": 10}, "color": "black"},
     "encoding": {"x": {"field": "t", "type": "quantitative", "axis": null}, "y": {"field": "v", "type": "quantitative", "axis": null}, "yError": {"field": "e"}}},
    {"data": {"name": "rmte_low"}, "mark": {"type": "point", "shape": "circle", "filled": true, "fill": "#FF0000", "stroke": "black", "strokeWidth": 0.8, "size": 56, "opacity": 1},
     "encoding": {"x": {"field": "t", "type": "quantitative", "axis": null}, "y": {"field": "v", "type": "quantitative", "axis": null}}},
    {"data": {"name": "rmte_fit_up"}, "mark": {"type": "line", "color": "#00FF00", "strokeWidth": 3},
     "encoding": {"x": {"field": "t", "type": "quantitative", "axis": {"values": [2015.3, 2015.4, 2015.5, 2015.6, 2015.7, 2015.8], "format": ".1f", "title": "Year", "tickSize": -5, "labelPadding": 12, "titlePadding": 2, "grid": false}},
       "y": {"field": "v", "type": "quantitative", "axis": {"values": [-40, -20, 0, 20, 40, 60, 80, 100, 120], "title": "Vertical Displacement (mm)", "tickSize": -5, "labelPadding": 10, "titlePadding": 6, "grid": true}}}},
    {"data": {"name": "rmte_fit_low"}, "mark": {"type": "line", "color": "#00FFFF", "strokeWidth": 3},
     "encoding": {"x": {"field": "t", "type": "quantitative", "axis": {"orient": "top", "values": [2015.3, 2015.4, 2015.5, 2015.6, 2015.7, 2015.8], "labels": false, "title": null, "domain": false, "grid": false, "tickSize": -5}},
       "y": {"field": "v", "type": "quantitative", "axis": {"orient": "right", "values": [-40, -20, 0, 20, 40, 60, 80, 100, 120], "labels": false, "title": null, "domain": false, "grid": false, "tickSize": -5}}}},
    {"data": {"name": "rmte_labels"}, "mark": {"type": "text", "fontSize": 14, "color": "black", "align": "center", "baseline": "middle"},
     "encoding": {"x": {"field": "t", "type": "quantitative", "axis": null}, "y": {"field": "v", "type": "quantitative", "axis": null}, "text": {"field": "label"}}}
  ]
}
]
}
